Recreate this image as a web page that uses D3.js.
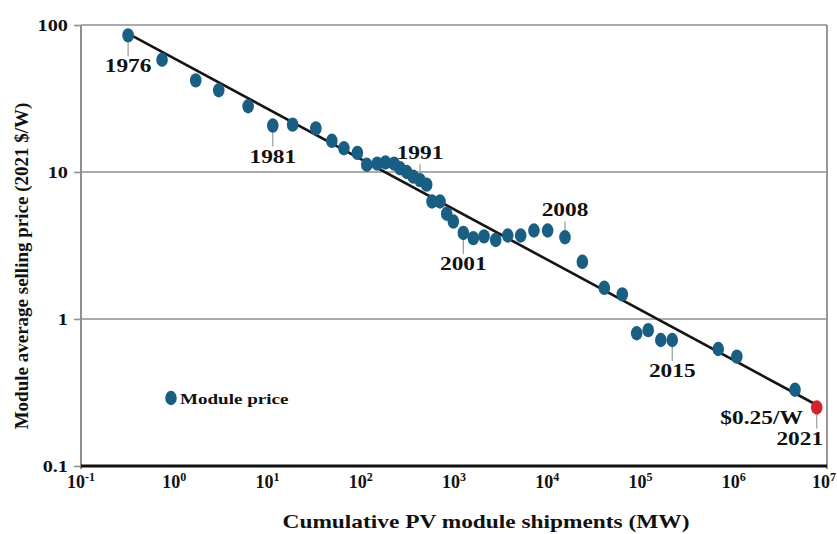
<!DOCTYPE html>
<html>
<head>
<meta charset="utf-8">
<script src="https://cdn.jsdelivr.net/npm/d3@7"></script>
<style>
  html, body { margin: 0; padding: 0; background: #ffffff; }
  svg { display: block; font-family: "Liberation Serif", "Times New Roman", serif; font-weight: bold; }
</style>
</head>
<body>
<svg id="chart" width="837" height="534"></svg>
<script>
// Cumulative PV module shipments (MW), one entry per data year
const shipments = [
  0.32, 0.74, 1.7, 3.0, 6.2, 11.4, 18.6, 33, 49, 66,
  92, 116, 150, 184, 228, 264, 311, 366, 432, 509,
  581, 708, 835, 984, 1260, 1610, 2100, 2800, 3770, 5190,
  7200, 10100, 15500, 23800, 40900, 63800, 91000, 121000, 165000, 219000,
  682000, 1080000, 4540000, 7760000
];
// Module average selling price (2021 $/W)
const prices = [
  85, 58, 42, 36, 28, 20.7, 21.0, 19.8, 16.3, 14.5,
  13.5, 11.2, 11.4, 11.6, 11.4, 10.6, 10.0, 9.3, 8.8, 8.2,
  6.3, 6.3, 5.2, 4.6, 3.85, 3.55, 3.65, 3.45, 3.7, 3.7,
  4.0, 4.0, 3.6, 2.45, 1.63, 1.47, 0.80, 0.84, 0.72, 0.72,
  0.625, 0.555, 0.33, 0.25
];
// Learning-curve fit (end points)
const fitShipments = [0.317, 8.4e6];
const fitPrices = [87.7, 0.253];

// Year annotations: point index, label, side of the point
const annotIndex = [0, 5, 18, 24, 32, 39, 43];
const annotYears = ["1976", "1981", "1991", "2001", "2008", "2015", "2021"];
const annotSide  = ["below", "below", "above", "below", "above", "below", "below"];

// Axis ticks
const yTicks = [0.1, 1, 10, 100];
const yTickLabels = ["0.1", "1", "10", "100"];
const xTickExponents = [-1, 0, 1, 2, 3, 4, 5, 6, 7];

const legendLabel = "Module price";
const xTitle = "Cumulative PV module shipments (MW)";
const yTitle = "Module average selling price (2021 $/W)";

const BLUE = "#1a5f83";
const RED = "#d2232e";
const GRID = "#8f8f8f";
const K = 1.23; // horizontal stretch of the serif lettering

const svg = d3.select("#chart");
const x = d3.scaleLog().domain([0.1, 1e7]).range([81, 827]);
const y = d3.scaleLog().domain([0.1, 100]).range([466, 25]);
const [x0, x1] = x.range();
const [yb, yt] = y.range();

function label(parent, px, py, str, size, anchor) {
  return parent.append("text")
    .attr("transform", `translate(${px},${py}) scale(${K},1)`)
    .attr("text-anchor", anchor)
    .style("font-size", size + "px")
    .attr("fill", "#111")
    .text(str);
}

// Horizontal gridlines (1, 10, 100)
svg.append("g").selectAll("line")
  .data(yTicks.filter(v => v > 0.1))
  .join("line")
  .attr("x1", x0).attr("x2", x1)
  .attr("y1", d => y(d)).attr("y2", d => y(d))
  .attr("stroke", GRID).attr("stroke-width", 1.6);

// Right border
svg.append("line")
  .attr("x1", x1).attr("x2", x1).attr("y1", yt).attr("y2", yb + 3)
  .attr("stroke", GRID).attr("stroke-width", 1.8);

// Y axis
const yAxis = svg.append("g")
  .attr("transform", `translate(${x0},0)`)
  .call(d3.axisLeft(y).tickValues(yTicks).tickSize(7).tickFormat((d, i) => yTickLabels[i]));
yAxis.select(".domain").attr("stroke", GRID).attr("stroke-width", 2)
  .attr("d", `M0,${yt}V${yb + 3}`);
yAxis.selectAll(".tick line").attr("stroke", GRID).attr("stroke-width", 1.6);
yAxis.selectAll(".tick text")
  .attr("x", -13 / K).attr("dy", "0.34em")
  .attr("transform", `scale(${K},1)`)
  .style("font-size", "16.5px").style("font-family", "Liberation Serif, serif")
  .style("font-weight", "bold").attr("fill", "#111");

// X axis baseline
svg.append("line")
  .attr("x1", x0).attr("x2", x1).attr("y1", yb).attr("y2", yb)
  .attr("stroke", "#111").attr("stroke-width", 3);

// X tick labels as powers of ten (the last one is kept inside the frame edge)
const lastExp = xTickExponents[xTickExponents.length - 1];
const xLab = svg.append("g").selectAll("text")
  .data(xTickExponents)
  .join("text")
  .attr("x", d => d === lastExp ? 836 : x(Math.pow(10, d)))
  .attr("y", 488)
  .attr("text-anchor", d => d === lastExp ? "end" : "middle")
  .attr("fill", "#111")
  .style("font-size", "18px");
xLab.append("tspan").text("10");
xLab.append("tspan").attr("dy", -7).style("font-size", "12px").text(d => String(d));

// Fit line
svg.append("line")
  .attr("x1", x(fitShipments[0])).attr("y1", y(fitPrices[0]))
  .attr("x2", x(fitShipments[1])).attr("y2", y(fitPrices[1]))
  .attr("stroke", "#151515").attr("stroke-width", 2.6);

// Leader lines for the year annotations
const ann = svg.append("g");
annotIndex.forEach((idx, k) => {
  const px = x(shipments[idx]);
  const py = y(prices[idx]);
  const below = annotSide[k] === "below";
  ann.append("line")
    .attr("x1", px).attr("x2", px)
    .attr("y1", below ? py + 7 : py - 16)
    .attr("y2", below ? py + 21 : py - 3)
    .attr("stroke", "#9a9a9a").attr("stroke-width", 1.2);
});

// Data points
const last = shipments.length - 1;
svg.append("g").selectAll("ellipse")
  .data(shipments)
  .join("ellipse")
  .attr("cx", d => x(d))
  .attr("cy", (d, i) => y(prices[i]))
  .attr("rx", 5.8).attr("ry", 7.2)
  .attr("fill", (d, i) => i === last ? RED : BLUE);

// Year labels
annotIndex.forEach((idx, k) => {
  const px = x(shipments[idx]);
  const py = y(prices[idx]);
  const below = annotSide[k] === "below";
  const lx = idx === last ? px - 17 : px;
  label(ann, lx, below ? py + 37 : py - 21, annotYears[k], 19, "middle");
});

// Price call-out on the latest point
label(svg, x(shipments[last]) - 14, y(prices[last]) + 16,
  "$" + prices[last].toFixed(2) + "/W", 19, "end");

// Legend
svg.append("ellipse").attr("cx", 171).attr("cy", 398).attr("rx", 5.8).attr("ry", 7.2).attr("fill", BLUE);
label(svg, 180, 404, legendLabel, 15.5, "start");

// Axis titles
label(svg, 486, 528, xTitle, 19, "middle");
svg.append("text")
  .attr("transform", "translate(28,266) rotate(-90)")
  .attr("text-anchor", "middle")
  .style("font-size", "19px")
  .attr("fill", "#111")
  .text(yTitle);
</script>
</body>
</html>
